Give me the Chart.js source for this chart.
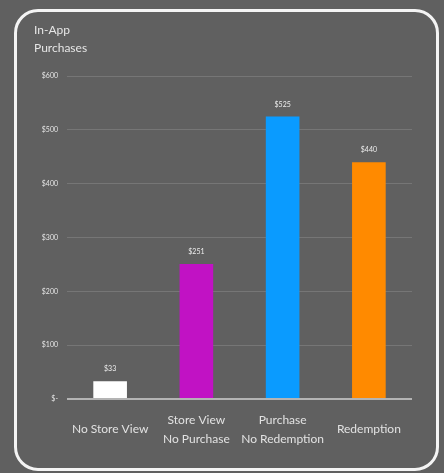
<!DOCTYPE html>
<html>
<head>
<meta charset="utf-8">
<script src="https://cdn.jsdelivr.net/npm/chart.js@4/dist/chart.umd.min.js"></script>
<style>
  html, body { margin: 0; padding: 0; background: #606060; }
  #wrap { position: relative; width: 444px; height: 473px; }
  #frame {
    position: absolute; left: 14px; top: 9px; width: 425px; height: 462px;
    box-sizing: border-box; border: 3px solid #f4f4f4; border-radius: 24px;
    pointer-events: none;
  }
  canvas { position: absolute; left: 0; top: 0; }
</style>
</head>
<body>
<div id="wrap">
  <canvas id="purchaseChart" width="444" height="473"></canvas>
  <div id="frame"></div>
</div>
<script>
// Average in-app spend per customer segment
const segments = [
  ['No Store View'],
  ['Store View', 'No Purchase'],
  ['Purchase', 'No Redemption'],
  ['Redemption']
];
const spend = [33, 251, 525, 440];
const barColors = ['#ffffff', '#c112c4', '#0a9bff', '#ff8a00'];
const yTicks = [0, 100, 200, 300, 400, 500, 600];

function money(v) {
  return v === 0 ? '$-' : '$' + v;
}

// value labels above each bar
const valueLabels = {
  id: 'valueLabels',
  afterDatasetsDraw(chart) {
    const ctx = chart.ctx;
    const meta = chart.getDatasetMeta(0);
    ctx.save();
    ctx.font = '7px Lato';
    ctx.fillStyle = '#eeeeee';
    ctx.textAlign = 'center';
    ctx.textBaseline = 'middle';
    meta.data.forEach((bar, i) => {
      ctx.fillText('$' + spend[i], bar.x, bar.y - 12);
    });
    ctx.restore();
  }
};

const ctx = document.getElementById('purchaseChart').getContext('2d');
new Chart(ctx, {
  type: 'bar',
  data: {
    labels: segments,
    datasets: [{
      data: spend,
      backgroundColor: barColors,
      borderWidth: 0,
      barPercentage: 0.78,
      categoryPercentage: 0.5
    }]
  },
  plugins: [valueLabels],
  options: {
    responsive: false,
    animation: false,
    layout: { padding: { left: 34, right: 32, top: 21, bottom: 2 } },
    plugins: {
      legend: { display: false },
      tooltip: { enabled: false },
      title: {
        display: true,
        text: ['In-App', 'Purchases'],
        align: 'start',
        color: '#e6e6e6',
        font: { family: 'Lato', size: 12, weight: 'normal', lineHeight: '18px' },
        padding: { top: 0, bottom: 19 }
      }
    },
    scales: {
      x: {
        grid: { display: false },
        border: { display: false },
        ticks: {
          color: '#e2e2e2',
          padding: 13,
          maxRotation: 0,
          crossAlign: 'center',
          font: { family: 'Lato', size: 12, lineHeight: '19px' }
        }
      },
      y: {
        min: 0,
        max: 600,
        afterFit(axis) { axis.width = 33; },
        afterBuildTicks(axis) { axis.ticks = yTicks.map(v => ({ value: v })); },
        border: { display: false },
        grid: {
          drawTicks: false,
          color: c => c.index === 0 ? '#b4b4b4' : '#767676',
          lineWidth: c => c.index === 0 ? 2 : 1
        },
        ticks: {
          color: '#e6e6e6',
          padding: 9,
          font: { family: 'Lato', size: 7 },
          callback: v => money(v)
        }
      }
    }
  }
});
</script>
</body>
</html>
